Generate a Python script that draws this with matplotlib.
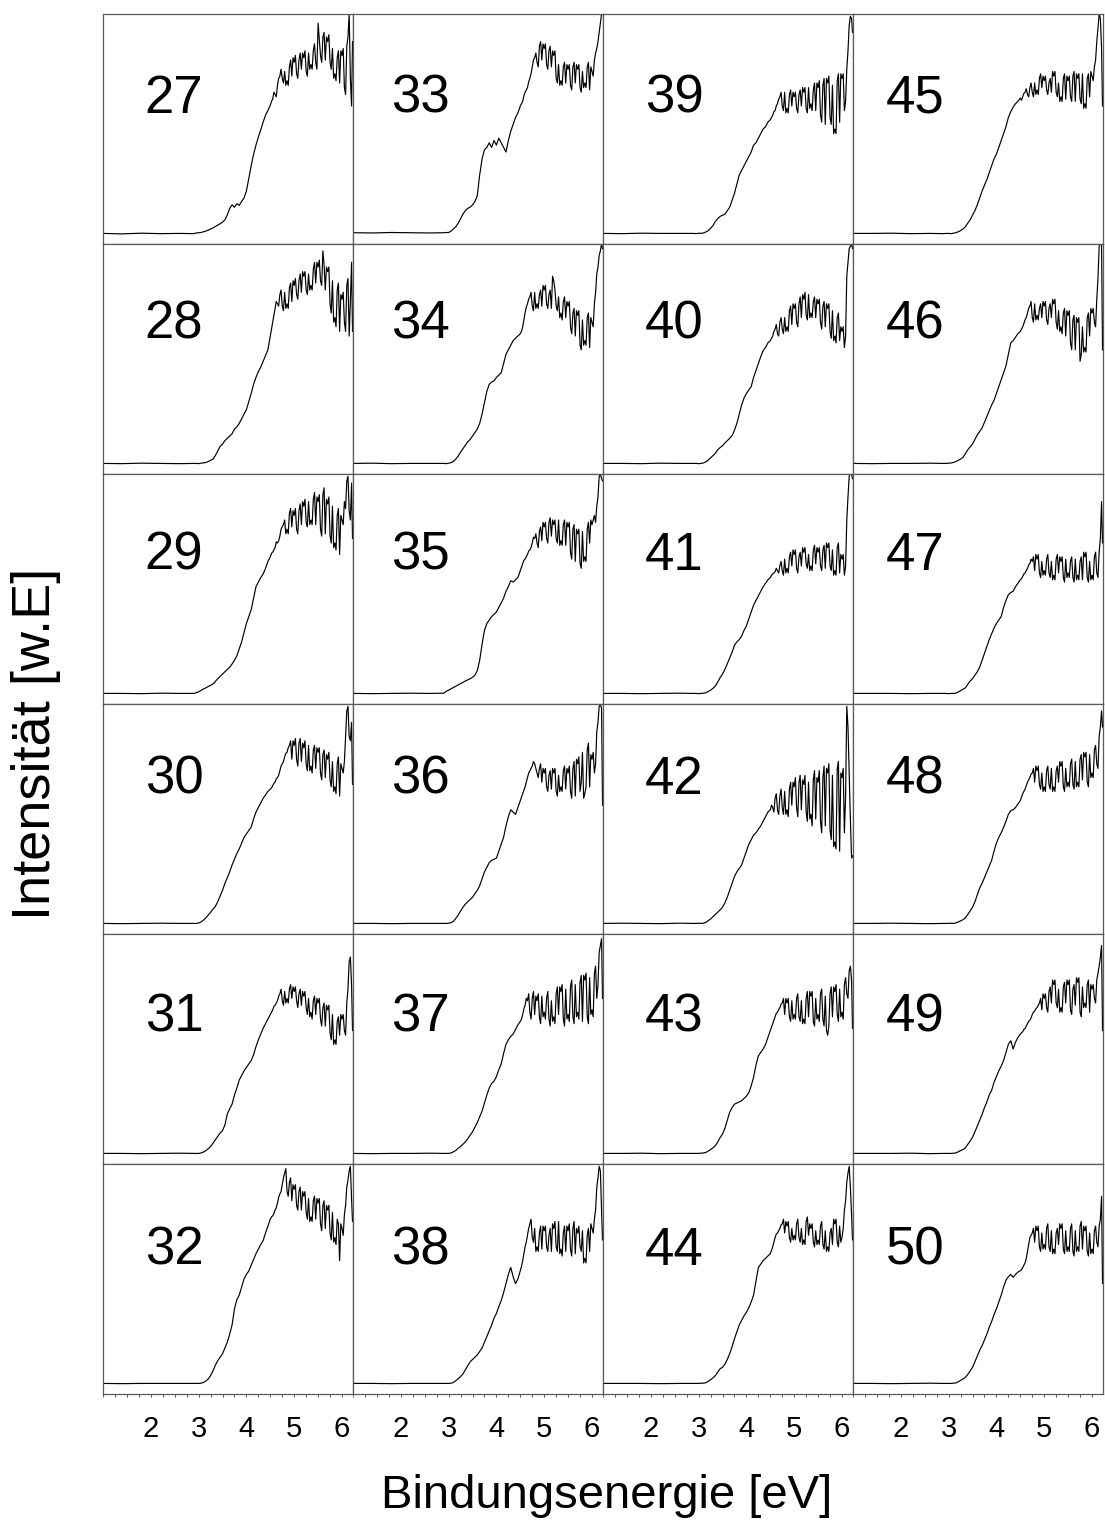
import numpy as np
import matplotlib
matplotlib.use("Agg")
import matplotlib.pyplot as plt
from matplotlib.ticker import FixedLocator, MultipleLocator

plt.rcParams['font.family'] = ['Liberation Sans', 'DejaVu Sans']

# ---------------- data (intensity in arbitrary units, 0..100 per panel) -------------
energy = [1.00, 1.40, 1.80, 2.20, 2.60,
          2.90, 2.95, 3.00, 3.05, 3.10, 3.15, 3.20, 3.25, 3.30, 3.35, 3.40, 3.45,
          3.50, 3.55, 3.60, 3.65, 3.70, 3.75, 3.80, 3.85, 3.90, 3.95,
          4.00, 4.05, 4.10, 4.15, 4.20, 4.25, 4.30, 4.35, 4.40, 4.45,
          4.50, 4.55, 4.60, 4.65, 4.70, 4.75, 4.80, 4.85, 4.90, 4.95,
          5.00, 5.05, 5.10, 5.15, 5.20, 5.25, 5.30, 5.35, 5.40, 5.45,
          5.50, 5.55, 5.60, 5.65, 5.70, 5.75, 5.80, 5.85, 5.90, 5.95,
          6.00, 6.05, 6.10, 6.15, 6.20, 6.22]
# extra readings of the noisy plateau, between the points above
energy_mid = [4.525, 4.575, 4.625, 4.675, 4.725, 4.775, 4.825, 4.875, 4.925, 4.975,
              5.025, 5.075, 5.125, 5.175, 5.225, 5.275, 5.325, 5.375, 5.425, 5.475,
              5.525, 5.575, 5.625, 5.675, 5.725, 5.775, 5.825, 5.875, 5.925, 5.975,
              6.025, 6.075, 6.125, 6.175]

s27 = [4.6, 4.4, 4.7, 4.5, 4.6,
       4.5, 4.8, 4.9, 5.0, 5.3, 5.6, 6.0, 6.5, 7.0, 7.6, 8.2, 8.8,
       9.5, 10.5, 12.6, 15.5, 17, 16, 17.5, 16.8, 18.5, 20, 23, 28.5, 34, 39, 43, 46.5, 49.6, 53, 56, 58,
       60.4, 63, 65, 69, 73, 72, 75, 71, 77, 73, 79, 74, 80, 76, 81, 75, 83, 78, 84, 79,
       96, 82, 90, 80, 88, 79, 85, 74, 81, 70, 82, 68, 86, 100, 60,
       88]
m27 = [62, 66, 64, 72, 76, 70, 69, 69, 80, 81, 82, 72, 83, 83, 84, 73, 76, 76, 87, 76,
       89, 79, 92, 90, 91, 76, 72, 71, 84, 84, 85, 65, 90, 72]
s28 = [4.6, 4.5, 4.7, 4.6, 4.5,
       4.6, 4.6, 4.5, 4.7, 4.8, 5.0, 5.4, 5.9, 6.5, 8.0, 10, 12,
       13, 14.5, 15.5, 16.5, 17.5, 19.5, 20.5, 22, 24, 26, 28, 31.5, 35, 39, 42, 44.5, 46.5, 49, 51.5, 54,
       60, 66, 72, 74, 78, 73, 79, 74, 81, 75, 82, 78, 84, 79, 86, 80, 87, 82, 89, 83,
       90, 84, 97, 80, 88, 74, 84, 68, 80, 62, 76, 66, 82, 60, 92,
       62]
m28 = [63, 69, 75, 73, 80, 71, 72, 72, 83, 84, 85, 76, 87, 88, 88, 78, 80, 80, 92, 92,
       93, 82, 91, 90, 90, 70, 66, 64, 83, 78, 79, 62, 85, 75]
s29 = [4.6, 4.6, 4.5, 4.7, 4.6,
       4.6, 4.9, 5.3, 5.9, 6.5, 7.0, 7.6, 8.1, 8.7, 9.8, 11, 12,
       13, 14, 15, 16, 17.4, 19, 21, 24, 27, 31, 35, 38, 41, 46, 51, 53, 55, 56.5, 59, 62,
       64, 66, 68, 70, 73, 77, 80, 76, 83, 77, 82, 76, 84, 78, 86, 79, 88, 80, 89, 78,
       88, 76, 91, 74, 87, 73, 86, 70, 82, 65, 80, 88, 97, 84, 96,
       72]
m29 = [65.5, 67, 70.5, 71, 76, 78, 74, 74, 85, 84, 85, 74, 87, 88, 89, 77, 78, 78, 92, 90,
       91, 73, 94, 89, 90, 70, 68, 67, 85, 82, 78, 85, 99, 80]
s30 = [4.6, 4.5, 4.6, 4.7, 4.6,
       4.6, 4.6, 4.8, 5.2, 6.0, 7.0, 8.2, 9.4, 10.8, 12, 14, 16.5,
       19, 22, 24.5, 27, 30, 32.5, 35, 37, 39.5, 42, 43.5, 45, 46.5, 50, 53, 55, 57, 59, 60.5, 62,
       63, 64.5, 66, 68, 71, 74, 77, 79, 82, 76, 82, 76, 83, 75, 81, 74, 82, 73, 80, 72,
       79, 70, 78, 68, 76, 67, 75, 64, 74, 60, 72, 75, 97, 86, 92,
       65]
m30 = [63.5, 65.5, 67.5, 69, 73, 75, 78.5, 81, 84, 84, 85, 73, 85, 83, 84, 71, 71, 70, 82, 81,
       81, 67, 80, 78, 79, 64, 62, 61, 77, 74, 70, 86, 99, 84]
s31 = [4.6, 4.6, 4.5, 4.6, 4.7,
       4.6, 4.6, 4.6, 4.8, 5.2, 5.8, 6.6, 7.6, 9, 10.5, 12, 13.5,
       14.5, 17, 21.7, 24, 26, 30, 33, 36.5, 38.5, 40.5, 42, 43.5, 45, 47.5, 51, 54, 56.5, 59, 61, 63,
       65, 67, 69, 71, 74, 71, 75, 72, 76, 72, 75, 71, 74, 69, 73, 68, 72, 66, 71, 65,
       70, 63, 68, 60, 67, 57, 65, 54, 62, 56, 63, 58, 70, 88, 78,
       58]
m31 = [66, 68.5, 70, 73, 76, 69, 70, 70, 78, 77, 77, 68, 76, 75, 75, 65, 64, 63, 73, 72,
       72, 60, 70, 69, 69, 54, 52, 52, 64, 65, 65, 56, 76, 90]
s32 = [4.6, 4.5, 4.6, 4.6, 4.6,
       4.6, 4.6, 4.6, 4.7, 5.0, 5.6, 6.5, 8.0, 10, 12.5, 14.5, 16,
       17.5, 20, 22.5, 26, 30, 37, 41, 43, 46.5, 50, 52, 53.5, 56, 58.5, 61, 63, 65, 66.7, 70, 73,
       76, 77.5, 80, 83, 87, 91, 96, 88, 92, 84, 89, 82, 88, 80, 86, 79, 85, 77, 84, 76,
       83, 74, 82, 72, 80, 70, 79, 68, 76, 58, 72, 78, 90, 97, 85,
       75]
m32 = [77, 78.5, 81, 85.5, 88, 94, 98, 86, 94, 91, 91, 80, 90, 88, 88, 76, 75, 75, 86, 85,
       85, 71, 84, 82, 82, 67, 66, 65, 74, 74, 69, 82, 93, 99]
s33 = [4.9, 4.8, 5.0, 4.9, 4.8,
       4.9, 5.0, 5.0, 5.6, 6.5, 7.5, 9, 11, 13, 14.5, 15.5, 16,
       17, 18.5, 21, 30, 37, 41, 42, 44, 42, 45, 43, 46, 44, 42, 40, 45, 49, 52, 55, 57,
       60, 62, 66, 68, 72, 77, 81, 79, 86, 80, 85, 78, 84, 77, 82, 72, 78, 71, 77, 70,
       76, 69, 77, 70, 76, 68, 75, 70, 77, 67, 75, 80, 85, 92, 100,
       100]
m33 = [61, 64.5, 67, 70.5, 74, 80, 83, 77, 88, 87, 87, 76, 86, 84, 84, 70, 69, 69, 79, 78,
       78, 67, 79, 78, 78, 66, 68, 68, 79, 77, 73, 83, 88, 96]
s34 = [4.6, 4.7, 4.5, 4.6, 4.6,
       4.6, 4.5, 4.7, 4.9, 5.5, 6.5, 7.8, 9.5, 11, 12.5, 14, 15,
       16.5, 18, 19.5, 22, 26, 31, 36, 39, 40, 40.5, 42, 43, 44, 48, 52, 54, 56, 58, 59, 60,
       61, 64, 70, 74, 77, 73, 79, 74, 78, 73, 80, 74, 78, 72, 84, 73, 77, 70, 75, 68,
       73, 64, 70, 60, 69, 56, 67, 58, 68, 55, 66, 74, 87, 95, 100,
       98]
m34 = [62, 67, 72.5, 76, 79, 71, 72, 72, 80, 82, 82, 72, 80, 86, 80, 71, 68, 67, 77, 75,
       75, 61, 72, 71, 71, 54, 56, 56, 70, 68, 64, 79, 90, 97]
s35 = [4.6, 4.5, 4.6, 4.7, 4.6,
       4.7, 5.5, 6.0, 6.6, 7.2, 7.7, 8.3, 8.9, 9.4, 10, 10.5, 11,
       11.6, 12.5, 14.5, 19, 26, 32, 35, 36.5, 38, 39, 40, 42, 44, 46, 49, 51, 53.6, 53, 54, 55,
       58, 61, 63, 65, 67, 70, 72, 70, 75, 71, 77, 72, 79, 73, 78, 72, 80, 71, 78, 69,
       77, 66, 76, 62, 74, 61, 75, 64, 76, 70, 78, 82, 86, 99, 98,
       97]
m35 = [59.5, 62.5, 64, 66.5, 68, 72.5, 74, 68, 77, 79, 79, 70, 81, 80, 80, 70, 69, 69, 80, 79,
       79, 63, 78, 76, 76, 59, 62, 62, 79, 80, 80, 79, 90, 100]
s36 = [4.6, 4.6, 4.5, 4.6, 4.6,
       4.6, 4.6, 4.7, 4.9, 5.5, 6.8, 8.2, 10, 11.6, 13, 14, 15,
       16, 17.5, 19, 21, 24, 27, 29, 31, 32, 32.5, 33, 36, 39, 42, 47, 51, 54, 53, 52, 55,
       58, 61, 64, 68, 71, 73, 74, 70, 72, 66, 70, 64, 69, 63, 70, 62, 69, 64, 71, 63,
       70, 62, 72, 60, 74, 62, 79, 61, 80, 64, 76, 70, 88, 99, 98,
       56]
m36 = [59.5, 62.5, 66, 70, 72, 75, 72, 68, 74, 72, 72, 62, 71, 72, 72, 60, 62, 62, 73, 72,
       73, 59, 75, 76, 77, 66, 59, 64, 83, 78, 79, 74, 92, 100]
s37 = [4.6, 4.5, 4.6, 4.6, 4.7,
       4.6, 4.6, 4.6, 4.8, 5.3, 5.9, 6.8, 7.6, 8.6, 9.6, 11, 12.5,
       14, 16, 18, 20.5, 23, 26.5, 30, 33, 35, 36, 38, 41, 43.5, 48, 52, 54, 55.5, 56.5, 58.5, 60.5,
       62, 65, 69, 71, 66, 72, 65, 71, 64, 73, 66, 72, 63, 71, 64, 74, 65, 75, 63, 76,
       65, 77, 64, 78, 66, 79, 62, 80, 64, 81, 67, 83, 72, 92, 98,
       72]
m37 = [63, 67.5, 72, 74, 63, 75, 73, 74, 61, 64, 63, 75, 60, 62, 61, 77, 77, 78, 60, 63,
       62, 80, 61, 64, 63, 82, 82, 83, 61, 65, 64, 86, 78, 95]
s38 = [4.6, 4.6, 4.5, 4.6, 4.6,
       4.6, 4.6, 4.6, 4.7, 5.0, 5.8, 6.6, 7.6, 8.7, 10.5, 12.3, 14,
       15, 16, 17, 18.5, 20, 22.5, 25, 27.5, 30, 33, 35, 38, 40.6, 44, 48, 52, 55, 51, 48, 50,
       53.6, 58, 64, 69, 74, 68, 72, 64, 70, 63, 71, 64, 69, 62, 72, 64, 75, 63, 70, 62,
       71, 63, 72, 61, 70, 64, 71, 59, 69, 62, 72, 76, 90, 99, 80,
       67]
m38 = [55.5, 61, 66, 72, 76, 66, 62, 62, 73, 73, 73, 62, 72, 74, 75, 62, 61, 60, 73, 73,
       74, 60, 75, 72, 73, 62, 57, 57, 72, 74, 70, 80, 94, 97]
s39 = [4.6, 4.5, 4.7, 4.6, 4.6,
       4.6, 4.5, 4.7, 4.6, 4.8, 5.2, 5.8, 6.8, 8, 9.8, 11, 12,
       12.5, 13, 14.5, 16, 19, 22, 26, 30, 32, 34, 36, 38, 40, 43, 44, 46, 48, 50, 51, 53,
       54, 56, 58, 61, 64, 60, 66, 59, 65, 60, 64, 59, 65, 60, 66, 59, 68, 61, 67, 58,
       68, 56, 69, 52, 70, 55, 69, 50, 71, 53, 72, 58, 76, 95, 98,
       92]
m39 = [55, 57.5, 60, 63, 66, 58, 57, 57, 67, 66, 66, 57, 67, 68, 68, 57, 59, 58, 70, 70,
       71, 53, 72, 72, 73, 52, 48, 48, 74, 74, 74, 62, 84, 99]
s40 = [4.6, 4.6, 4.5, 4.7, 4.6,
       4.6, 4.6, 4.5, 4.6, 4.8, 5.3, 6.0, 7.0, 8, 9, 10.5, 11.5,
       12.3, 13.5, 14.5, 15.5, 16.7, 19, 22, 26, 30, 33, 35, 36.5, 38, 42, 45, 48, 51, 53.6, 55, 57,
       58, 60, 63, 61, 66, 63, 68, 64, 71, 65, 72, 66, 74, 68, 76, 69, 78, 70, 75, 68,
       74, 66, 73, 64, 72, 62, 71, 60, 68, 58, 62, 55, 86, 98, 100,
       98]
m40 = [59, 62, 65, 60, 68, 61, 62, 62, 73, 74, 74, 64, 77, 78, 79, 67, 68, 68, 77, 76,
       76, 63, 75, 74, 74, 59, 58, 57, 70, 64, 64, 60, 92, 99]
s41 = [4.6, 4.6, 4.5, 4.6, 4.7,
       4.6, 4.6, 4.5, 4.6, 4.7, 4.9, 5.4, 6.0, 6.8, 7.8, 9.5, 11.5,
       13, 15, 17.5, 20, 22.5, 25.5, 27, 28, 29.5, 32, 34, 37, 40, 43, 45, 47, 49, 51, 52.5, 54,
       55, 56.5, 57.5, 58, 60, 58, 63, 59, 64, 60, 65, 59, 64, 60, 66, 61, 65, 60, 67, 61,
       66, 60, 67, 59, 68, 60, 67, 58, 68, 57, 63, 56, 80, 99, 100,
       98]
m41 = [56, 57, 59, 57, 62, 56, 57, 57, 66, 67, 67, 57, 66, 68, 68, 59, 58, 58, 69, 68,
       68, 58, 69, 70, 70, 58, 56, 56, 70, 65, 65, 60, 90, 100]
s42 = [4.6, 4.7, 4.6, 4.5, 4.7,
       4.6, 4.6, 4.7, 4.6, 4.7, 5.0, 5.8, 6.5, 7.5, 8.5, 9.5, 10.5,
       11.6, 13.5, 16, 19, 22, 25, 27, 28.5, 30, 33, 36, 39, 41, 43, 44, 45.5, 47, 49, 51, 53,
       54, 55, 59, 54, 60, 55, 62, 54, 63, 56, 64, 55, 66, 54, 65, 53, 66, 52, 67, 50,
       66, 49, 68, 47, 70, 45, 69, 40, 72, 36, 68, 44, 99, 70, 33,
       34]
m42 = [56, 53, 61, 52, 63, 52, 52, 51, 66, 66, 68, 51, 69, 67, 69, 49, 50, 47, 71, 68,
       71, 44, 73, 72, 74, 41, 38, 37, 75, 70, 72, 60, 90, 50]
s43 = [4.6, 4.6, 4.7, 4.5, 4.6,
       4.6, 4.6, 4.6, 4.7, 4.8, 5.0, 5.6, 6.3, 7.0, 8, 9.5, 11.5,
       13, 15.5, 19, 22.5, 24.5, 26, 26.5, 27, 27.5, 28.5, 29.5, 31, 34, 37.7, 43, 47, 48.5, 50, 52, 55,
       58, 61, 64, 66, 68, 70, 65, 70, 64, 71, 65, 72, 64, 71, 63, 72, 64, 73, 62, 72,
       65, 74, 63, 73, 56, 74, 64, 75, 65, 76, 66, 78, 74, 84, 80,
       59]
m43 = [59.5, 62.5, 65.5, 67, 69.5, 72, 72, 72, 62, 63, 63, 74, 62, 61, 61, 75, 75, 75, 60, 63,
       62, 76, 60, 58, 60, 77, 77, 78, 62, 64, 63, 81, 72, 86]
s44 = [4.6, 4.6, 4.6, 4.5, 4.6,
       4.6, 4.6, 4.6, 4.7, 4.7, 4.9, 5.5, 6.2, 7.0, 8, 9.5, 11,
       11.6, 13, 15, 17.5, 20.5, 24, 27, 30, 32, 34, 35.5, 37.5, 40, 43, 49, 55, 56.5, 58, 59, 60,
       61, 64, 68, 70, 72, 74, 70, 73, 68, 72, 69, 74, 68, 72, 67, 75, 69, 72, 66, 71,
       67, 73, 65, 71, 64, 70, 65, 74, 66, 73, 68, 80, 92, 99, 78,
       67]
m44 = [62.5, 66, 69.5, 71, 73.5, 76, 75, 75, 66, 67, 67, 76, 66, 65, 65, 77, 74, 74, 64, 65,
       65, 75, 63, 62, 62, 72, 76, 76, 64, 66, 72, 84, 96, 90]
s45 = [4.6, 4.6, 4.7, 4.5, 4.6,
       4.5, 4.6, 4.6, 4.5, 4.7, 4.9, 5.3, 5.8, 6.5, 7.5, 9, 10.5,
       12.5, 14.5, 17, 20, 23, 25.5, 28, 31, 34, 37, 39, 42, 45, 48, 51, 55, 57.5, 59.5, 61, 62,
       63.5, 64, 66, 65, 68, 66, 70, 67, 72, 68, 71, 67, 70, 66, 73, 66, 70, 64, 72, 63,
       71, 64, 73, 62, 72, 63, 74, 61, 72, 64, 73, 77, 88, 100, 85,
       60]
m45 = [62.5, 65.5, 67.5, 64, 70, 64, 65, 65, 74, 73, 73, 65, 72, 75, 75, 64, 62, 62, 74, 73,
       73, 62, 75, 74, 74, 61, 59, 59, 74, 75, 71, 80, 94, 98]
s46 = [4.6, 4.5, 4.6, 4.6, 4.7,
       4.6, 4.6, 4.7, 4.8, 5.0, 5.4, 5.9, 6.5, 7.2, 8.8, 10.5, 11.8,
       13, 15, 17, 18.5, 20, 22.5, 25, 27.5, 30, 32, 35, 38, 41, 44, 47, 52, 57, 58, 59.5, 61,
       62, 64, 67, 70, 73, 68, 74, 69, 72, 68, 73, 67, 72, 68, 74, 66, 71, 64, 70, 60,
       69, 57, 67, 54, 66, 49, 64, 55, 68, 60, 70, 66, 76, 99, 100,
       54]
m46 = [63, 65.5, 68, 72, 75, 66, 67, 67, 74, 75, 75, 65, 74, 76, 76, 63, 62, 61, 72, 71,
       71, 54, 69, 68, 68, 52, 53, 53, 70, 72, 72, 64, 85, 100]
s47 = [4.6, 4.6, 4.6, 4.5, 4.6,
       4.6, 4.6, 4.5, 4.6, 4.6, 4.7, 5.2, 5.8, 6.4, 7.0, 8.5, 10,
       11, 12.5, 14, 16, 19, 22, 25, 28, 30.5, 33, 35, 36.5, 38, 42, 45, 47.5, 48.5, 49, 51, 52.5,
       54, 55.5, 57, 59, 61, 62, 58, 63, 57, 62, 58, 63, 57, 62, 56, 63, 57, 62, 55, 63,
       57, 62, 55, 63, 56, 62, 54, 64, 55, 62, 56, 64, 57, 66, 88,
       70]
m47 = [54.5, 56.5, 58, 60.5, 63, 64, 65, 65, 55, 56, 56, 65, 55, 54, 54, 65, 64, 64, 53, 55,
       55, 64, 53, 54, 54, 64, 66, 66, 53, 54, 54, 66, 55, 72]
s48 = [4.6, 4.6, 4.7, 4.6, 4.5,
       4.6, 4.6, 4.6, 4.7, 4.6, 4.8, 5.2, 5.7, 6.2, 7.0, 8.5, 10,
       11.6, 14, 17, 20, 22, 24.5, 27, 29.5, 32, 36, 39.5, 42, 44, 46.4, 49, 52, 53.6, 54, 55, 56.5,
       58, 61, 63, 66, 68, 70, 66, 71, 65, 70, 64, 71, 65, 72, 64, 71, 66, 73, 64, 72,
       66, 74, 65, 75, 66, 76, 67, 77, 66, 78, 70, 80, 74, 86, 97,
       90]
m48 = [59.5, 62, 64.5, 67, 69.5, 72, 73, 73, 63, 62, 62, 73, 63, 62, 62, 73, 75, 75, 62, 64,
       64, 76, 63, 64, 64, 78, 79, 79, 64, 68, 68, 82, 72, 90]
s49 = [4.6, 4.6, 4.6, 4.7, 4.5,
       4.6, 4.6, 4.6, 4.6, 4.7, 4.8, 5.3, 5.8, 6.3, 7.0, 8.5, 10,
       11.6, 14, 16.5, 19, 21.5, 24.5, 27, 30, 32, 35.5, 38, 40.5, 42.5, 45, 48.5, 52, 53.6, 50, 53, 55,
       56.5, 57.5, 59, 61, 62.5, 65, 66.5, 68, 70, 67, 72, 68, 75, 70, 78, 70, 76, 68, 77, 70,
       78, 67, 76, 69, 79, 66, 77, 70, 78, 66, 76, 72, 80, 86, 95,
       58]
m49 = [57, 58.5, 60, 62, 63.5, 66, 67.5, 69, 72, 74, 74, 66, 77, 80, 80, 68, 66, 66, 79, 80,
       80, 65, 78, 81, 81, 64, 68, 68, 80, 78, 78, 70, 83, 90]
s50 = [4.6, 4.6, 4.5, 4.6, 4.7,
       4.6, 4.6, 4.6, 4.6, 4.7, 4.8, 5.3, 5.9, 6.5, 7.2, 8.5, 10,
       11.6, 14, 16.5, 19, 21, 23.5, 26, 29, 31.5, 34.5, 37, 40, 43, 46.5, 49.5, 51, 52, 50.7, 52, 53,
       53.6, 55, 57, 62, 68, 70, 66, 71, 64, 70, 65, 72, 64, 71, 63, 70, 65, 72, 63, 71,
       64, 72, 62, 71, 64, 73, 63, 71, 62, 70, 63, 71, 66, 73, 86,
       48]
m50 = [54, 56, 59, 65, 69, 72, 73, 73, 62, 63, 63, 74, 62, 61, 61, 72, 74, 74, 61, 62,
       62, 74, 60, 62, 62, 75, 73, 73, 60, 61, 61, 73, 64, 76]

sample_numbers = [27, 28, 29, 30, 31, 32, 33, 34, 35, 36, 37, 38,
                  39, 40, 41, 42, 43, 44, 45, 46, 47, 48, 49, 50]
spectra = [s27, s28, s29, s30, s31, s32, s33, s34, s35, s36, s37, s38,
           s39, s40, s41, s42, s43, s44, s45, s46, s47, s48, s49, s50]
spectra_mid = [m27, m28, m29, m30, m31, m32, m33, m34, m35, m36, m37, m38,
               m39, m40, m41, m42, m43, m44, m45, m46, m47, m48, m49, m50]
xtick_values = [2, 3, 4, 5, 6]
xtick_labels = ["2", "3", "4", "5", "6"]

for s, m in zip(spectra, spectra_mid):
    assert len(s) == len(energy), len(s)
    assert len(m) == len(energy_mid), len(m)

# ---------------- layout ----------------
W, H = 1105, 1527
fig = plt.figure(figsize=(W / 100, H / 100), dpi=100)
nrows, ncols = 6, 4
gs = fig.add_gridspec(nrows, ncols, left=103 / W, right=1103 / W,
                      top=1 - 14 / H, bottom=1 - 1394 / H, hspace=0, wspace=0)

frame_col = "#5a5a5a"
label_x = [0.284, 0.268, 0.284, 0.248]                 # per column (axes fraction)
label_y = [0.570, 0.591, 0.583, 0.609, 0.574, 0.561]   # per row baseline

for k, (num, spec, mid) in enumerate(zip(sample_numbers, spectra, spectra_mid)):
    col = k // nrows
    row = k % nrows
    ax = fig.add_subplot(gs[row, col])
    xs = np.array(energy + energy_mid)
    ys = np.array(spec + mid)
    order = np.argsort(xs, kind="stable")
    ax.plot(xs[order], ys[order], color="black", lw=0.85)
    ax.set_xlim(1.0, 6.23)
    ax.set_ylim(0, 100)
    for sp in ax.spines.values():
        sp.set_color(frame_col)
        sp.set_linewidth(0.9)
    ax.set_yticks([])
    ax.xaxis.set_major_locator(FixedLocator(xtick_values))
    ax.xaxis.set_minor_locator(MultipleLocator(0.25))
    ax.tick_params(axis="x", which="both", direction="out", length=2.2,
                   width=0.7, color=frame_col)
    if row == nrows - 1:
        ax.set_xticklabels(xtick_labels)
        ax.tick_params(axis="x", which="major", labelsize=21, pad=13)
    else:
        ax.set_xticklabels([])
    ax.text(label_x[col], label_y[row], str(num), transform=ax.transAxes,
            fontsize=38, ha="center", va="baseline")

fig.text(607 / W, 1 - 1508 / H, "Bindungsenergie [eV]", fontsize=34,
         ha="center", va="baseline")
fig.text(36 / W, 1 - 744 / H, "Intensität [w.E]", fontsize=39, rotation=90,
         ha="center", va="center")

fig.savefig("out.png", dpi=100)
